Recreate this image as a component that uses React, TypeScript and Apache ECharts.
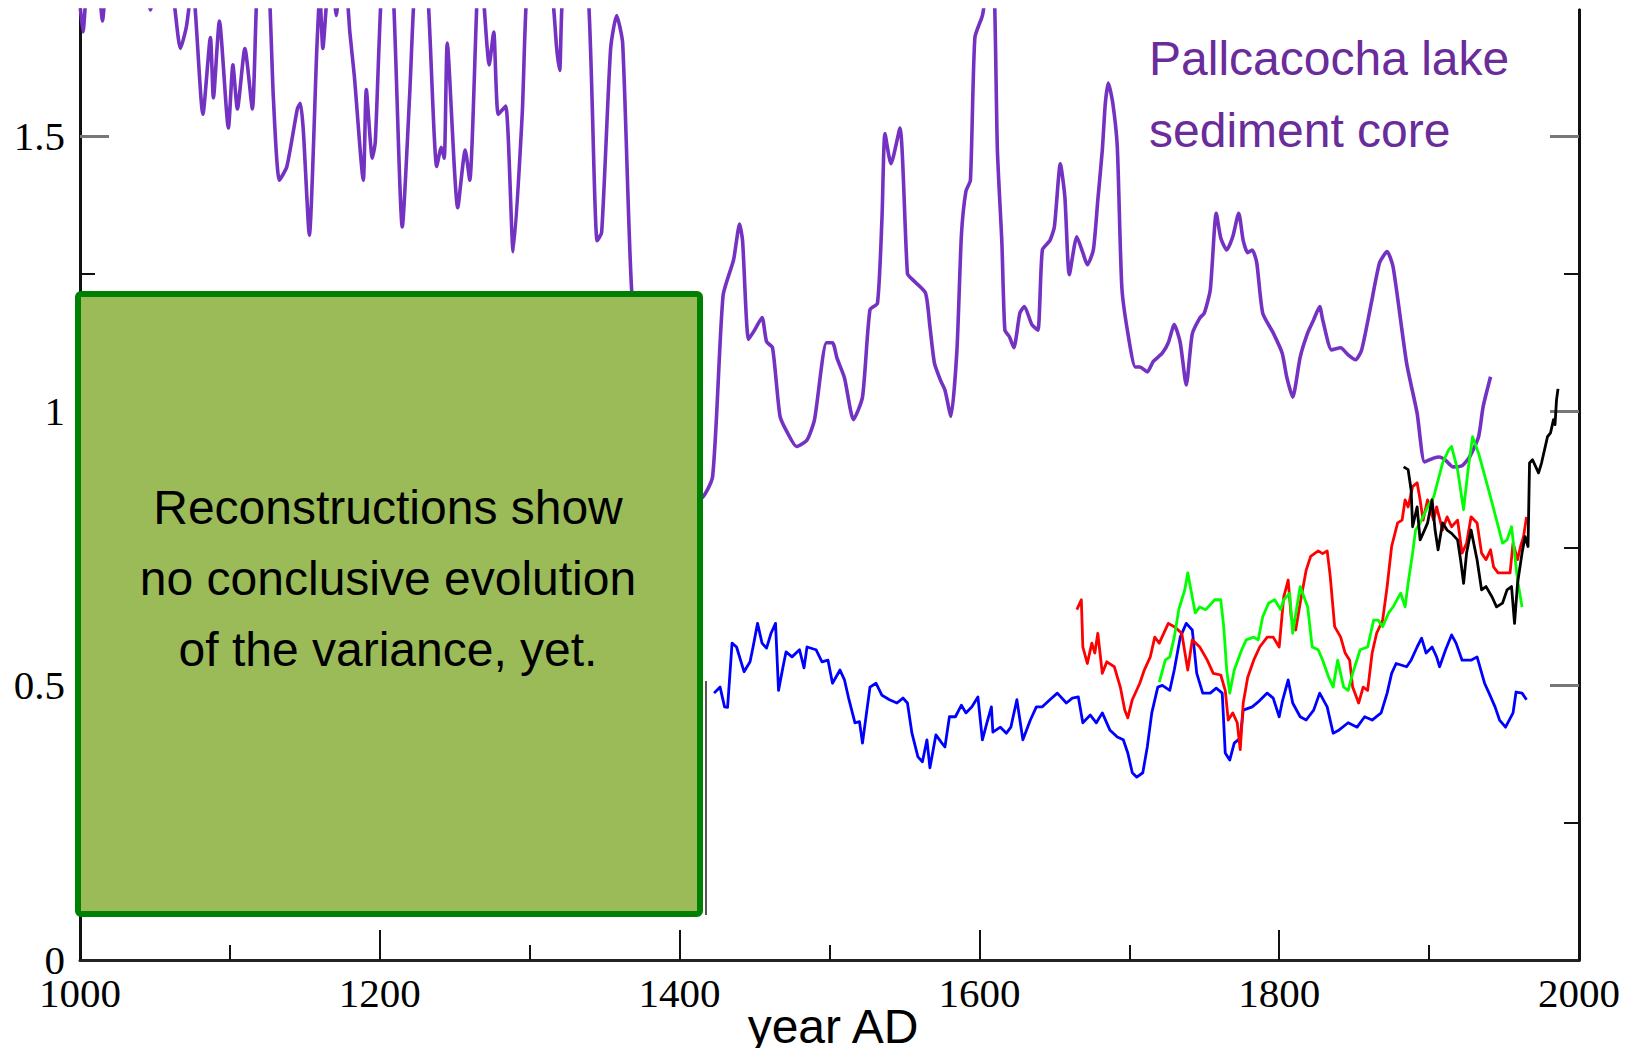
import React, { useEffect, useRef } from "react";
import * as echarts from "echarts";

// Pallcacocha lake sediment core (purple)
const purpleYears = [
  1000, 1002, 1005, 1010, 1013, 1015, 1017, 1025, 1040, 1047, 1054, 1062, 1067, 1071, 1075, 1082, 1087, 1089,
  1093, 1099, 1102, 1105, 1110, 1115, 1118, 1122, 1126, 1129, 1133, 1138, 1145, 1147, 1149, 1153, 1158, 1160,
  1162, 1165, 1168, 1171, 1174, 1178, 1180, 1183, 1189, 1191, 1195, 1197, 1201, 1205, 1209, 1215, 1220, 1223,
  1227, 1232, 1238, 1241, 1243, 1245, 1252, 1257, 1260, 1265, 1267, 1269, 1273, 1276, 1279, 1284, 1289, 1295,
  1298, 1304, 1310, 1315, 1318, 1320, 1322, 1330, 1339, 1345, 1348, 1354, 1358, 1362, 1368, 1375, 1385, 1395,
  1405, 1414, 1422, 1429, 1436, 1440, 1442, 1446, 1450, 1455, 1458, 1462, 1467, 1472, 1478, 1485, 1490, 1498,
  1502, 1505, 1510, 1516, 1522, 1527, 1532, 1535, 1537, 1541, 1547, 1552, 1555, 1564, 1567, 1570, 1574, 1577,
  1581, 1585, 1588, 1591, 1594, 1597, 1602, 1604, 1607, 1610, 1612, 1615, 1617, 1620, 1623, 1627, 1630, 1635,
  1639, 1642, 1647, 1650, 1654, 1657, 1660, 1665, 1669, 1672, 1676, 1679, 1682, 1684, 1686, 1689, 1692, 1695,
  1699, 1704, 1707, 1712, 1716, 1722, 1726, 1730, 1734, 1738, 1742, 1747, 1750, 1754, 1758, 1761, 1765, 1769,
  1773, 1776, 1779, 1782, 1785, 1789, 1796, 1802, 1805, 1809, 1814, 1819, 1823, 1827, 1829, 1835, 1841, 1846,
  1851, 1855, 1861, 1867, 1872, 1876, 1885, 1892, 1897, 1903, 1907, 1911, 1916, 1922, 1927, 1933, 1936, 1941,
];
const purpleValues = [
  1.74, 1.69, 1.78, 1.8, 1.76, 1.71, 1.76, 1.85, 1.85, 1.73, 1.85, 1.76, 1.66, 1.7, 1.78, 1.54, 1.68, 1.57,
  1.71, 1.515, 1.63, 1.55, 1.66, 1.55, 1.76, 1.86, 1.78, 1.57, 1.42, 1.445, 1.55, 1.56, 1.51, 1.32, 1.66, 1.76,
  1.66, 1.76, 1.8, 1.72, 1.8, 1.76, 1.69, 1.61, 1.42, 1.585, 1.46, 1.49, 1.76, 1.84, 1.76, 1.335, 1.58, 1.76,
  1.84, 1.76, 1.445, 1.48, 1.46, 1.67, 1.37, 1.475, 1.42, 1.76, 1.82, 1.76, 1.63, 1.69, 1.54, 1.555, 1.29, 1.54,
  1.76, 1.86, 1.8, 1.76, 1.66, 1.62, 1.76, 1.86, 1.76, 1.31, 1.325, 1.66, 1.72, 1.67, 1.22, 1.08, 0.97, 0.9,
  0.86, 0.84, 0.88, 1.21, 1.275, 1.34, 1.31, 1.13, 1.147, 1.17, 1.126, 1.115, 0.99, 0.96, 0.935, 0.947, 0.984, 1.124,
  1.124, 1.096, 1.06, 0.984, 1.025, 1.184, 1.196, 1.35, 1.505, 1.45, 1.515, 1.25, 1.24, 1.215, 1.153, 1.087, 1.056, 1.038,
  0.99, 1.11, 1.32, 1.4, 1.42, 1.68, 1.72, 1.76, 1.86, 1.76, 1.475, 1.306, 1.147, 1.135, 1.115, 1.178, 1.19, 1.157,
  1.147, 1.293, 1.31, 1.335, 1.45, 1.39, 1.248, 1.317, 1.288, 1.266, 1.293, 1.384, 1.475, 1.56, 1.597, 1.56, 1.48, 1.226,
  1.142, 1.08, 1.08, 1.071, 1.09, 1.105, 1.124, 1.157, 1.124, 1.047, 1.14, 1.169, 1.178, 1.22, 1.36, 1.315, 1.293, 1.317,
  1.36, 1.31, 1.288, 1.293, 1.27, 1.178, 1.142, 1.105, 1.062, 1.025, 1.098, 1.142, 1.166, 1.19, 1.166, 1.111, 1.115, 1.102,
  1.093, 1.111, 1.19, 1.27, 1.29, 1.262, 1.087, 0.996, 0.907, 0.914, 0.916, 0.91, 0.898, 0.9, 0.916, 0.953, 1.007, 1.062,
];

// Blue reconstruction
const blueYears = [
  1423, 1427, 1430, 1432, 1435, 1438, 1441, 1443, 1447, 1449, 1452, 1455, 1458, 1461, 1464, 1466, 1469, 1471,
  1475, 1480, 1483, 1485, 1491, 1495, 1499, 1502, 1507, 1510, 1513, 1517, 1520, 1522, 1527, 1531, 1535, 1540,
  1545, 1549, 1552, 1555, 1559, 1562, 1565, 1567, 1571, 1575, 1577, 1580, 1584, 1588, 1591, 1595, 1599, 1602,
  1605, 1608, 1609, 1614, 1618, 1621, 1625, 1629, 1634, 1638, 1642, 1647, 1652, 1658, 1662, 1666, 1669, 1674,
  1678, 1682, 1687, 1692, 1696, 1699, 1702, 1705, 1709, 1712, 1715, 1719, 1722, 1727, 1730, 1734, 1738, 1742,
  1745, 1749, 1754, 1758, 1762, 1764, 1767, 1770, 1774, 1776, 1782, 1786, 1792, 1796, 1800, 1802, 1806, 1809,
  1814, 1818, 1823, 1827, 1832, 1836, 1840, 1846, 1852, 1857, 1862, 1868, 1872, 1875, 1878, 1885, 1888, 1892,
  1895, 1898, 1902, 1905, 1907, 1911, 1915, 1918, 1922, 1928, 1932, 1937, 1940, 1944, 1947, 1951, 1956, 1958,
  1962, 1965,
];
const blueValues = [
  0.486, 0.497, 0.461, 0.46, 0.577, 0.57, 0.543, 0.525, 0.543, 0.57, 0.613, 0.577, 0.568, 0.595, 0.613, 0.491, 0.534, 0.561,
  0.552, 0.565, 0.532, 0.57, 0.565, 0.543, 0.546, 0.504, 0.528, 0.51, 0.474, 0.432, 0.434, 0.395, 0.497, 0.504, 0.482, 0.474,
  0.468, 0.477, 0.468, 0.413, 0.37, 0.361, 0.401, 0.35, 0.41, 0.395, 0.388, 0.443, 0.443, 0.464, 0.45, 0.461, 0.479, 0.401,
  0.432, 0.461, 0.415, 0.424, 0.413, 0.424, 0.474, 0.401, 0.437, 0.461, 0.461, 0.474, 0.486, 0.468, 0.477, 0.479, 0.432, 0.446,
  0.432, 0.45, 0.419, 0.406, 0.401, 0.377, 0.341, 0.333, 0.341, 0.388, 0.45, 0.497, 0.5, 0.491, 0.528, 0.588, 0.613, 0.601,
  0.522, 0.486, 0.486, 0.495, 0.486, 0.377, 0.364, 0.395, 0.404, 0.455, 0.461, 0.47, 0.486, 0.477, 0.443, 0.47, 0.51, 0.468,
  0.443, 0.437, 0.455, 0.486, 0.461, 0.413, 0.419, 0.432, 0.424, 0.443, 0.437, 0.45, 0.486, 0.522, 0.54, 0.534, 0.546, 0.57,
  0.586, 0.559, 0.57, 0.552, 0.534, 0.565, 0.592, 0.577, 0.546, 0.546, 0.552, 0.504, 0.486, 0.461, 0.437, 0.424, 0.45, 0.488,
  0.486, 0.474,
];

// Red reconstruction
const redYears = [
  1665, 1668, 1669, 1672, 1675, 1677, 1679, 1682, 1685, 1690, 1694, 1697, 1699, 1702, 1707, 1710, 1714, 1717,
  1720, 1726, 1730, 1735, 1739, 1742, 1747, 1752, 1756, 1761, 1764, 1766, 1769, 1772, 1774, 1776, 1779, 1783,
  1787, 1792, 1796, 1800, 1803, 1806, 1808, 1811, 1814, 1818, 1821, 1826, 1829, 1832, 1834, 1837, 1841, 1844,
  1847, 1849, 1853, 1856, 1859, 1862, 1865, 1869, 1872, 1875, 1879, 1882, 1884, 1886, 1889, 1892, 1894, 1896,
  1899, 1903, 1905, 1909, 1912, 1915, 1919, 1922, 1925, 1928, 1932, 1935, 1938, 1941, 1943, 1946, 1951, 1954,
  1956, 1959, 1961, 1963, 1965,
];
const redValues = [
  0.638, 0.656, 0.57, 0.54, 0.577, 0.559, 0.595, 0.522, 0.543, 0.534, 0.497, 0.455, 0.441, 0.474, 0.504, 0.528, 0.552, 0.588,
  0.577, 0.613, 0.607, 0.595, 0.528, 0.583, 0.57, 0.546, 0.522, 0.519, 0.491, 0.437, 0.45, 0.432, 0.383, 0.468, 0.515, 0.546,
  0.57, 0.588, 0.588, 0.57, 0.661, 0.692, 0.625, 0.601, 0.65, 0.71, 0.735, 0.745, 0.74, 0.745, 0.7, 0.607, 0.588, 0.559,
  0.546, 0.497, 0.468, 0.497, 0.491, 0.559, 0.595, 0.619, 0.68, 0.753, 0.796, 0.801, 0.838, 0.825, 0.862, 0.869, 0.838, 0.801,
  0.838, 0.801, 0.825, 0.783, 0.807, 0.789, 0.801, 0.741, 0.759, 0.807, 0.796, 0.741, 0.729, 0.747, 0.716, 0.705, 0.705, 0.705,
  0.759, 0.729, 0.753, 0.771, 0.807,
];

// Green reconstruction
const greenYears = [
  1720, 1724, 1727, 1730, 1733, 1735, 1737, 1739, 1742, 1744, 1747, 1751, 1754, 1757, 1761, 1763, 1765, 1767,
  1770, 1775, 1778, 1783, 1786, 1789, 1793, 1797, 1801, 1803, 1807, 1809, 1814, 1819, 1822, 1826, 1829, 1833,
  1836, 1839, 1843, 1846, 1849, 1854, 1859, 1863, 1866, 1869, 1873, 1876, 1881, 1884, 1886, 1889, 1891, 1894,
  1899, 1903, 1906, 1909, 1913, 1915, 1919, 1923, 1926, 1929, 1933, 1936, 1941, 1945, 1949, 1952, 1955, 1957,
  1959, 1962,
];
const greenValues = [
  0.506, 0.546, 0.552, 0.588, 0.638, 0.656, 0.674, 0.705, 0.661, 0.632, 0.643, 0.638, 0.647, 0.656, 0.656, 0.607, 0.528, 0.486,
  0.528, 0.565, 0.583, 0.588, 0.583, 0.625, 0.65, 0.656, 0.638, 0.656, 0.668, 0.595, 0.68, 0.643, 0.57, 0.565, 0.546, 0.515,
  0.497, 0.546, 0.497, 0.491, 0.522, 0.565, 0.57, 0.619, 0.619, 0.607, 0.632, 0.643, 0.668, 0.643, 0.686, 0.741, 0.783, 0.796,
  0.825, 0.843, 0.874, 0.905, 0.929, 0.935, 0.893, 0.82, 0.893, 0.953, 0.923, 0.893, 0.843, 0.801, 0.759, 0.765, 0.789, 0.741,
  0.692, 0.643,
];

// Black reconstruction
const blackYears = [
  1883, 1886, 1888, 1889, 1892, 1894, 1896, 1899, 1902, 1904, 1906, 1909, 1912, 1915, 1919, 1921, 1923, 1925,
  1928, 1932, 1935, 1938, 1942, 1945, 1949, 1952, 1955, 1957, 1959, 1962, 1964, 1966, 1967, 1969, 1973, 1975,
  1979, 1981, 1983, 1984, 1985, 1986,
];
const blackValues = [
  0.898, 0.893, 0.856, 0.789, 0.825, 0.765, 0.777, 0.796, 0.838, 0.783, 0.747, 0.796, 0.783, 0.777, 0.765, 0.729, 0.686, 0.741,
  0.783, 0.729, 0.674, 0.68, 0.661, 0.643, 0.65, 0.674, 0.68, 0.613, 0.686, 0.741, 0.771, 0.753, 0.905, 0.911, 0.887, 0.905,
  0.953, 0.96, 0.984, 0.975, 1.02, 1.04,
];

// Axis extents and tick positions
const yearTicks = { min: 1000, max: 2000, interval: 200 };
const valueExtent = { min: 0, max: 1.73 };
const valueLabels = [0, 0.5, 1, 1.5];
const valueMajorTicks = [0.5, 1, 1.5];
const valueMinorTicks = [0.25, 0.75, 1.25];

const zip = (xs: number[], ys: number[]) => xs.map((x, i) => [x, ys[i]]);

const SERIF = "'Liberation Serif', 'Times New Roman', serif";
const SANS = "'Liberation Sans', Arial, sans-serif";

export default function App() {
  const ref = useRef<HTMLDivElement>(null);

  useEffect(() => {
    if (!ref.current) return;
    const chart = echarts.init(ref.current, null, { renderer: "svg" });

    const valueAxis = (position: string, ticks: number[], len: number, color: string, width: number, labels: boolean) => ({
      type: "value",
      position,
      min: valueExtent.min,
      max: valueExtent.max,
      splitLine: { show: false },
      axisLine: { show: true, onZero: false, lineStyle: { color: "#111", width: 3 } },
      axisTick: { show: true, inside: true, length: len, customValues: ticks, lineStyle: { color, width } },
      axisLabel: labels
        ? { show: true, customValues: valueLabels, color: "#000", fontFamily: SERIF, fontSize: 41, margin: 15 }
        : { show: false },
    });

    const line = (name: string, data: number[][], color: string, width: number, smooth = 0) => ({
      name,
      type: "line",
      data,
      showSymbol: false,
      symbol: "none",
      clip: true,
      smooth,
      lineStyle: { color, width, join: "round" },
    });

    chart.setOption({
      animation: false,
      backgroundColor: "#ffffff",
      grid: { left: 80, right: 52, top: 10, bottom: 88 },
      xAxis: {
        type: "value",
        min: yearTicks.min,
        max: yearTicks.max,
        interval: yearTicks.interval,
        splitLine: { show: false },
        axisLine: { show: true, onZero: false, lineStyle: { color: "#222", width: 3 } },
        axisTick: { show: true, inside: true, length: 30, lineStyle: { color: "#111", width: 2 } },
        minorTick: { show: true, splitNumber: 2, length: 15, lineStyle: { color: "#111", width: 2 } },
        axisLabel: {
          color: "#000",
          fontFamily: SERIF,
          fontSize: 41,
          margin: 12,
          formatter: (v: number) => String(v),
        },
      },
      yAxis: [
        valueAxis("left", valueMinorTicks, 15, "#111", 2, false),
        valueAxis("left", valueMajorTicks, 29, "#777", 3, true),
        valueAxis("right", valueMinorTicks, 15, "#111", 2, false),
        valueAxis("right", valueMajorTicks, 29, "#777", 3, false),
      ],
      series: [
        line("Pallcacocha", zip(purpleYears, purpleValues), "#7332c2", 3.6, 0.2),
        line("blue", zip(blueYears, blueValues), "#0000ff", 2.8),
        line("red", zip(redYears, redValues), "#ff0000", 2.8),
        line("green", zip(greenYears, greenValues), "#00ff00", 2.8),
        line("black", zip(blackYears, blackValues), "#000000", 2.8),
      ],
      graphic: [
        {
          type: "line",
          z: 99,
          shape: { x1: 706, y1: 681, x2: 706, y2: 915 },
          style: { stroke: "#555", lineWidth: 2 },
        },
        {
          type: "rect",
          z: 100,
          shape: { x: 78, y: 294, width: 622, height: 620, r: 3 },
          style: { fill: "#9bbb59", stroke: "#008000", lineWidth: 6 },
        },
        {
          type: "text",
          z: 101,
          x: 388,
          y: 578,
          style: {
            text: "Reconstructions show\nno conclusive evolution\nof the variance, yet.",
            fill: "#000",
            fontSize: 48,
            fontFamily: SANS,
            align: "center",
            verticalAlign: "middle",
            lineHeight: 71,
          },
        },
        {
          type: "text",
          z: 101,
          x: 1149,
          y: 22,
          style: {
            text: "Pallcacocha lake\nsediment core",
            fill: "#6a2c9a",
            fontSize: 48,
            fontFamily: SANS,
            align: "left",
            verticalAlign: "top",
            lineHeight: 72,
          },
        },
        {
          type: "text",
          z: 101,
          x: 833,
          y: 1026,
          style: {
            text: "year AD",
            fill: "#000",
            fontSize: 48,
            fontFamily: SANS,
            align: "center",
            verticalAlign: "middle",
          },
        },
      ],
    });

    return () => chart.dispose();
  }, []);

  return (
    <div
      ref={ref}
      style={{ position: "fixed", left: 0, top: 0, width: 1631, height: 1048, background: "#fff" }}
    />
  );
}
